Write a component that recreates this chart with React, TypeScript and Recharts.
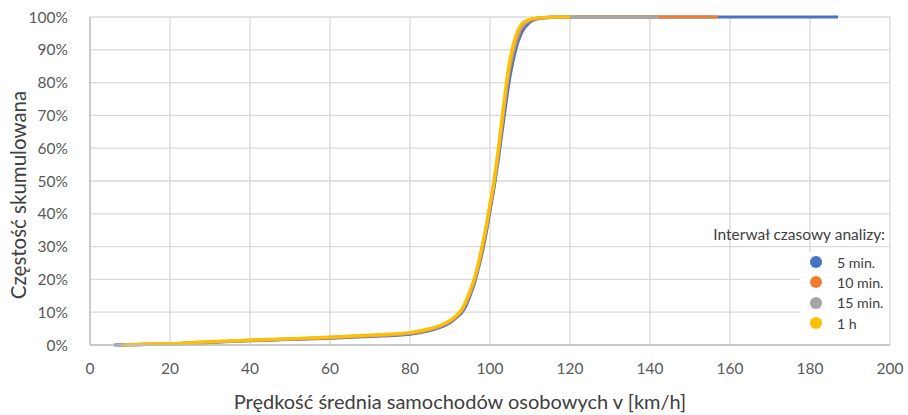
import { ComposedChart, Line, XAxis, YAxis, CartesianGrid } from "recharts";

// Cumulative share of cars vs. mean speed, one curve per aggregation interval.
const speed5 = [6, 10, 20, 30, 40, 50, 60, 70, 80, 85, 88, 90, 92, 93, 94, 95, 96, 97, 98, 99, 100, 101, 102, 103, 104, 105, 106, 107, 108, 110, 112, 115, 120, 150, 187];
const cum5 = [0, 0.001, 0.003, 0.008, 0.013, 0.017, 0.021, 0.026, 0.033, 0.044, 0.056, 0.068, 0.088, 0.1, 0.12, 0.15, 0.185, 0.23, 0.28, 0.34, 0.41, 0.48, 0.56, 0.65, 0.74, 0.82, 0.88, 0.925, 0.955, 0.985, 0.995, 0.999, 1, 1, 1];

const speed10 = [7, 10, 20, 30, 40, 50, 60, 70, 80, 85, 88, 90, 92, 93, 94, 95, 96, 97, 98, 99, 100, 101, 102, 103, 104, 105, 106, 107, 108, 110, 112, 115, 120, 140, 157];
const cum10 = [0, 0.001, 0.0035, 0.009, 0.014, 0.018, 0.022, 0.028, 0.035, 0.047, 0.059, 0.071, 0.091, 0.105, 0.127, 0.157, 0.192, 0.237, 0.29, 0.35, 0.42, 0.49, 0.575, 0.67, 0.765, 0.845, 0.9, 0.94, 0.967, 0.989, 0.996, 0.999, 1, 1, 1];

const speed15 = [7, 10, 20, 30, 40, 50, 60, 70, 80, 85, 88, 90, 92, 93, 94, 95, 96, 97, 98, 99, 100, 101, 102, 103, 104, 105, 106, 107, 108, 110, 112, 115, 120, 130, 142];
const cum15 = [0, 0.001, 0.0035, 0.009, 0.014, 0.018, 0.023, 0.029, 0.036, 0.048, 0.06, 0.073, 0.093, 0.107, 0.13, 0.16, 0.196, 0.24, 0.295, 0.355, 0.425, 0.495, 0.58, 0.68, 0.775, 0.855, 0.91, 0.95, 0.972, 0.991, 0.997, 0.999, 1, 1, 1];

const speed1h = [8, 10, 20, 30, 40, 50, 60, 70, 80, 85, 88, 90, 92, 93, 94, 95, 96, 97, 98, 99, 100, 101, 102, 103, 104, 105, 106, 107, 108, 110, 113, 117, 120];
const cum1h = [0, 0.001, 0.004, 0.01, 0.015, 0.019, 0.024, 0.03, 0.038, 0.05, 0.062, 0.075, 0.095, 0.11, 0.135, 0.165, 0.2, 0.245, 0.3, 0.36, 0.43, 0.5, 0.59, 0.69, 0.79, 0.87, 0.925, 0.96, 0.98, 0.993, 0.998, 1, 1];

const xTicks = [0, 20, 40, 60, 80, 100, 120, 140, 160, 180, 200];
const yTicks = [0, 0.1, 0.2, 0.3, 0.4, 0.5, 0.6, 0.7, 0.8, 0.9, 1];

const seriesNames = ["5 min.", "10 min.", "15 min.", "1 h"];
const seriesColors = ["#4472C4", "#ED7D31", "#A5A5A5", "#FFC000"];

const toPoints = (xs: number[], ys: number[]) => xs.map((v, i) => ({ v, p: ys[i] }));
const series = [
  toPoints(speed5, cum5),
  toPoints(speed10, cum10),
  toPoints(speed15, cum15),
  toPoints(speed1h, cum1h),
];

const FONT = "Lato, 'Open Sans', sans-serif";
const TEXT = "#595959";

// Legend sits inside the plot, bottom right, with a white box over the grid.
function LegendBox() {
  return (
    <div style={{ position: "absolute", left: 690, top: 225, width: 200, height: 122, fontFamily: FONT, color: "#404040" }}>
      <div style={{ position: "absolute", right: 5, top: 0, fontSize: 15.5, whiteSpace: "nowrap" }}>
        Interwał czasowy analizy:
      </div>
      <div style={{ position: "absolute", left: 110, top: 27, width: 89, height: 92, background: "#fff" }}>
        {seriesNames.map((n, i) => (
          <div key={n} style={{ display: "flex", alignItems: "center", height: 20.3 }}>
            <span style={{ display: "inline-block", width: 12, height: 12, borderRadius: 6, background: seriesColors[i], marginLeft: 10, marginRight: 15 }} />
            <span style={{ fontSize: 14.2 }}>{n}</span>
          </div>
        ))}
      </div>
    </div>
  );
}

export default function App() {
  return (
    <div style={{ position: "absolute", left: 0, top: 0, width: 908, height: 415 }}>
      <ComposedChart width={908} height={415} margin={{ top: 17, right: 18, bottom: 10, left: 0 }}>
        <CartesianGrid stroke="#D9D9D9" strokeWidth={1.3} />
        <XAxis
          dataKey="v"
          type="number"
          domain={[0, 200]}
          ticks={xTicks}
          interval={0}
          height={60}
          tickLine={false}
          axisLine={{ stroke: "#BFBFBF", strokeWidth: 1.3 }}
          tick={{ fill: TEXT, fontSize: 15.5, fontFamily: FONT }}
          tickMargin={12}
          label={{ value: "Prędkość średnia samochodów osobowych v [km/h]", position: "insideBottom", dx: -30, offset: -4, fill: "#404040", fontSize: 20, fontFamily: FONT }}
        />
        <YAxis
          dataKey="p"
          type="number"
          domain={[0, 1]}
          ticks={yTicks}
          interval={0}
          width={90}
          tickLine={false}
          axisLine={{ stroke: "#BFBFBF", strokeWidth: 1.3 }}
          tick={{ fill: TEXT, fontSize: 15.5, fontFamily: FONT }}
          tickMargin={16}
          tickFormatter={(v: number) => `${Math.round(v * 100)}%`}
          label={{ value: "Częstość skumulowana", angle: -90, position: "insideLeft", dx: 14, dy: 14, fill: "#404040", fontSize: 20.5, fontFamily: FONT, style: { textAnchor: "middle" } }}
        />
        {series.map((d, i) => (
          <Line
            key={seriesNames[i]}
            data={d}
            dataKey="p"
            name={seriesNames[i]}
            type="monotone"
            stroke={seriesColors[i]}
            strokeWidth={3.2}
            dot={false}
            isAnimationActive={false}
          />
        ))}
      </ComposedChart>
      <LegendBox />
    </div>
  );
}
